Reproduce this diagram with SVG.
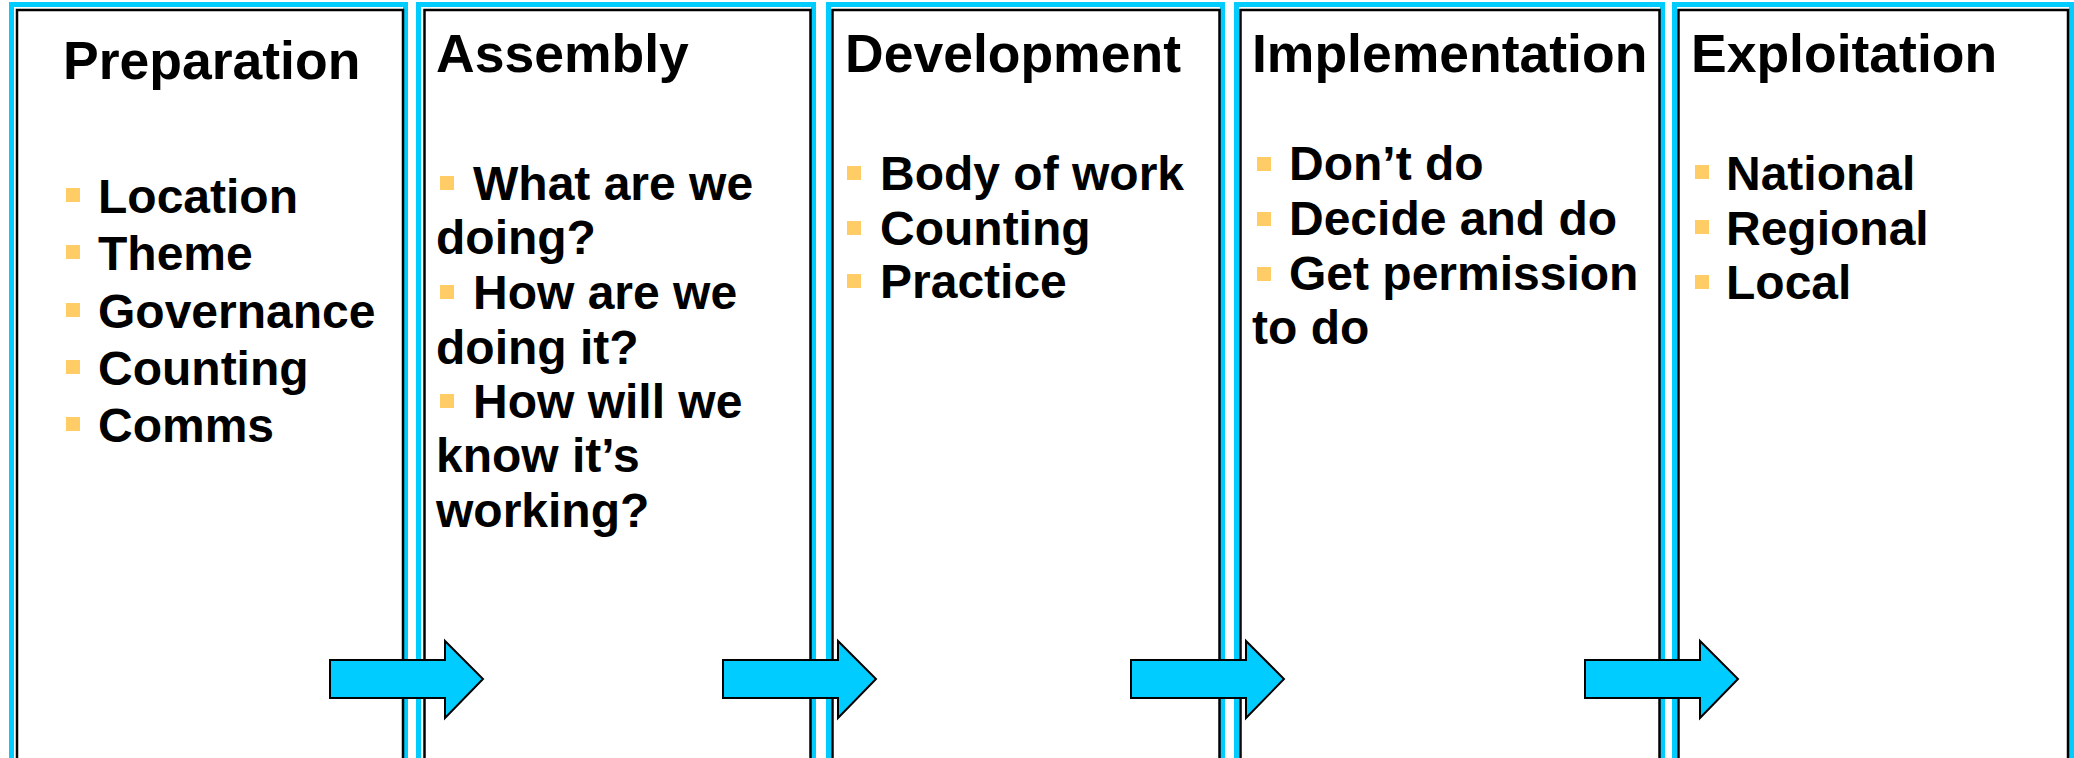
<svg xmlns="http://www.w3.org/2000/svg" width="2074" height="758" viewBox="0 0 2074 758">
<defs>
<style>
.outer{fill:#FFFFFF;stroke:#00CCFF;stroke-width:5}
.inner{fill:#FFFFFF;stroke:#000000;stroke-width:2.5}
.title{font-family:"Liberation Sans",Arial,sans-serif;font-weight:bold;font-size:53.5px;fill:#000000}
.item{font-family:"Liberation Sans",Arial,sans-serif;font-weight:bold;font-size:48px;fill:#000000}
.bul{fill:#FFCC66}
.arrow{fill:#00CCFF;stroke:#000000;stroke-width:2;stroke-linejoin:miter}
</style>
</defs>
<rect width="2074" height="758" fill="#FFFFFF"/>

<g id="preparation">
<rect class="outer" x="11.5" y="4.5" width="394" height="800"/>
<rect class="inner" x="17" y="10" width="386" height="800"/>
<text class="title" x="63" y="79">Preparation</text>
<rect class="bul" x="66" y="188" width="14" height="14"/>
<text class="item" x="98" y="213">Location</text>
<rect class="bul" x="66" y="245" width="14" height="14"/>
<text class="item" x="98" y="270">Theme</text>
<rect class="bul" x="66" y="303" width="14" height="14"/>
<text class="item" x="98" y="328">Governance</text>
<rect class="bul" x="66" y="360" width="14" height="14"/>
<text class="item" x="98" y="385">Counting</text>
<rect class="bul" x="66" y="417" width="14" height="14"/>
<text class="item" x="98" y="442">Comms</text>
</g>

<g id="assembly">
<rect class="outer" x="418.5" y="4.5" width="395" height="800"/>
<rect class="inner" x="424.5" y="10" width="386" height="800"/>
<text class="title" x="436" y="72">Assembly</text>
<rect class="bul" x="440" y="176" width="14" height="14"/>
<text class="item" x="473" y="200">What are we</text>
<text class="item" x="436" y="254">doing?</text>
<rect class="bul" x="440" y="285" width="14" height="14"/>
<text class="item" x="473" y="309">How are we</text>
<text class="item" x="436" y="364">doing it?</text>
<rect class="bul" x="440" y="394" width="14" height="14"/>
<text class="item" x="473" y="418">How will we</text>
<text class="item" x="436" y="472">know it’s</text>
<text class="item" x="436" y="527">working?</text>
</g>

<g id="development">
<rect class="outer" x="828.5" y="4.5" width="394" height="800"/>
<rect class="inner" x="832.5" y="10" width="387" height="800"/>
<text class="title" x="845" y="72">Development</text>
<rect class="bul" x="847" y="166" width="14" height="14"/>
<text class="item" x="880" y="190">Body of work</text>
<rect class="bul" x="847" y="221" width="14" height="14"/>
<text class="item" x="880" y="245">Counting</text>
<rect class="bul" x="847" y="274" width="14" height="14"/>
<text class="item" x="880" y="298">Practice</text>
</g>

<g id="implementation">
<rect class="outer" x="1236.5" y="4.5" width="426" height="800"/>
<rect class="inner" x="1240.5" y="10" width="419" height="800"/>
<text class="title" x="1252" y="72">Implementation</text>
<rect class="bul" x="1257" y="157" width="14" height="14"/>
<text class="item" x="1289" y="180">Don’t do</text>
<rect class="bul" x="1257" y="212" width="14" height="14"/>
<text class="item" x="1289" y="235">Decide and do</text>
<rect class="bul" x="1257" y="267" width="14" height="14"/>
<text class="item" x="1289" y="290">Get permission</text>
<text class="item" x="1252" y="344">to do</text>
</g>

<g id="exploitation">
<rect class="outer" x="1674.5" y="4.5" width="397" height="800"/>
<rect class="inner" x="1678.5" y="10" width="389.5" height="800"/>
<text class="title" x="1691" y="72">Exploitation</text>
<rect class="bul" x="1695" y="165" width="14" height="14"/>
<text class="item" x="1726" y="190">National</text>
<rect class="bul" x="1695" y="220" width="14" height="14"/>
<text class="item" x="1726" y="245">Regional</text>
<rect class="bul" x="1695" y="275" width="14" height="14"/>
<text class="item" x="1726" y="299">Local</text>
</g>

<g id="connectors">
<path class="arrow" d="M330,660 H445 V641 L483,679 L445,718 V698 H330 Z"/>
<path class="arrow" d="M723,660 H838 V641 L876,679 L838,718 V698 H723 Z"/>
<path class="arrow" d="M1131,660 H1246 V641 L1284,679 L1246,718 V698 H1131 Z"/>
<path class="arrow" d="M1585,660 H1700 V641 L1738,679 L1700,718 V698 H1585 Z"/>
</g>
</svg>
